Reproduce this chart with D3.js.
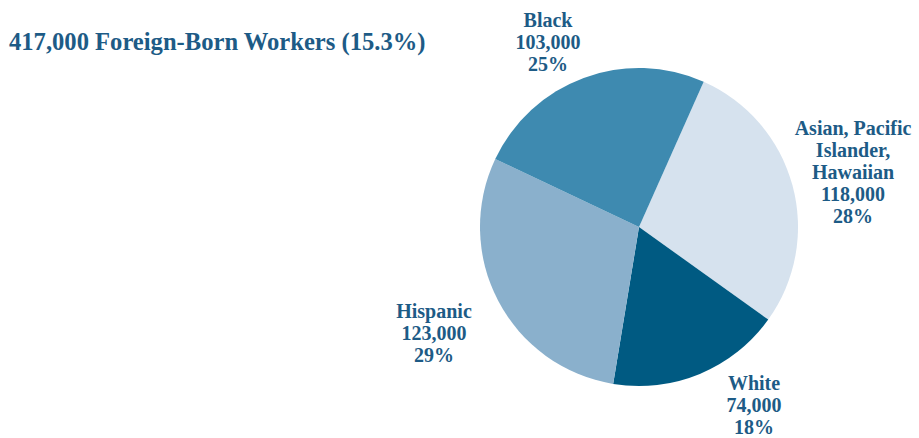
<!DOCTYPE html>
<html><head><meta charset="utf-8">
<script src="https://cdn.jsdelivr.net/npm/d3@7"></script>
<style>body{margin:0;background:#fff;} svg{display:block;}</style>
</head><body>
<svg id="c" width="919" height="438"></svg>
<script>
const title = "417,000 Foreign-Born Workers (15.3%)";
const categories = ["Asian, Pacific Islander, Hawaiian", "White", "Hispanic", "Black"];
const values = [118000, 74000, 123000, 103000];
const percents = ["28%", "18%", "29%", "25%"];
const labelLines = [["Asian, Pacific", "Islander,", "Hawaiian"], ["White"], ["Hispanic"], ["Black"]];
const colors = ["#d6e2ee", "#005a82", "#8ab0cc", "#3e8ab0"];
const labelPos = [[853, 135], [754, 390], [434, 318], [548, 27]];

const svg = d3.select("#c");
const font = "'Liberation Serif', 'DejaVu Serif', serif";
const textColor = "#1d5b86";

svg.append("text").attr("x", 9).attr("y", 50)
  .attr("font-family", font).attr("font-weight", "bold").attr("font-size", 24.6)
  .attr("fill", textColor).text(title);

const cx = 639, cy = 227, r = 159;
const start = 24 * Math.PI / 180;
const pie = d3.pie().sort(null).value(d => d).startAngle(start).endAngle(start + 2 * Math.PI);
const arc = d3.arc().innerRadius(0).outerRadius(r);
const g = svg.append("g").attr("transform", `translate(${cx},${cy})`);
g.selectAll("path").data(pie(values)).join("path")
  .attr("d", arc).attr("fill", (d, i) => colors[i]);

const fmt = d3.format(",");
categories.forEach((c, i) => {
  const lines = labelLines[i].concat([fmt(values[i]), percents[i]]);
  const t = svg.append("text").attr("text-anchor", "middle")
    .attr("font-family", font).attr("font-weight", "bold").attr("font-size", 20)
    .attr("fill", textColor);
  lines.forEach((l, j) => {
    t.append("tspan").attr("x", labelPos[i][0]).attr("y", labelPos[i][1] + j * 22).text(l);
  });
});
</script>
</body></html>
